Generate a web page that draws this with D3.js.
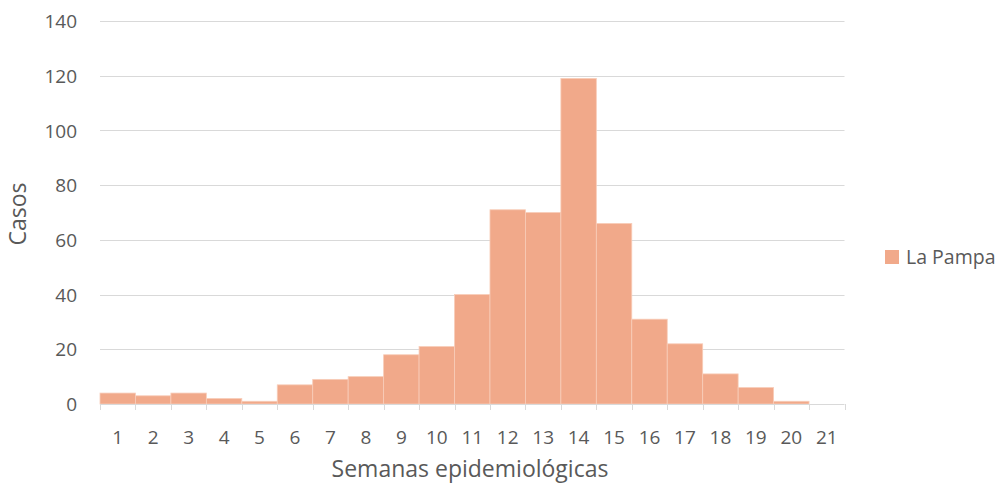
<!DOCTYPE html>
<html><head><meta charset="utf-8">
<script src="https://cdn.jsdelivr.net/npm/d3@7"></script>
<style>body{margin:0;background:#fff;} svg{display:block;} text{font-family:"Open Sans",sans-serif;fill:#595959;}</style>
</head><body><svg id="c" width="1000" height="485"></svg>
<script>
const weeks = ["1","2","3","4","5","6","7","8","9","10","11","12","13","14","15","16","17","18","19","20","21"];
const cases = [4,3,4,2,1,7,9,10,18,21,40,71,70,119,66,31,22,11,6,1,0];
const yTicks = [0,20,40,60,80,100,120,140];
const seriesName = "La Pampa";
const xTitle = "Semanas epidemiológicas";
const yTitle = "Casos";

const svg = d3.select("#c");
const x = d3.scaleBand().domain(weeks).range([100, 844.5]).padding(0);
const y = d3.scaleLinear().domain([0, 140]).range([404, 21]);
const fill = "#F1A98A";

// gridlines
svg.append("g").selectAll("line").data(yTicks.filter(d=>d>0)).join("line")
  .attr("x1", 100).attr("x2", 844.5)
  .attr("y1", d=>Math.round(y(d))+0.5).attr("y2", d=>Math.round(y(d))+0.5)
  .attr("stroke", "#d9d9d9").attr("stroke-width", 1);

// bars
svg.append("g").selectAll("rect").data(weeks).join("rect")
  .attr("x", d=>x(d)).attr("width", x.bandwidth())
  .attr("y", (d,i)=>y(cases[i])).attr("height", (d,i)=>y(0)-y(cases[i]))
  .attr("fill", fill).attr("stroke", "#f8cdb9").attr("stroke-width", 0.8);

// x axis
const xAxis = d3.axisBottom(x).tickSize(0).tickPadding(0);
const gx = svg.append("g").attr("transform", "translate(0,404)").call(xAxis);
gx.select(".domain").attr("stroke", "#d9d9d9").attr("d", "M100,0.5H844.5");
gx.selectAll(".tick text").attr("dy", null).attr("y", 40).attr("font-size", 19).attr("font-family", "Open Sans").attr("fill", "#595959");
// band boundary ticks
const bounds = weeks.map(d=>x(d)).concat([x.range()[1]]);
svg.append("g").selectAll("line").data(bounds).join("line")
  .attr("x1", d=>Math.round(d)+0.5).attr("x2", d=>Math.round(d)+0.5)
  .attr("y1", 404).attr("y2", 410).attr("stroke", "#d9d9d9");

// y axis
const yAxis = d3.axisLeft(y).tickValues(yTicks).tickSize(0).tickPadding(0);
const gy = svg.append("g").attr("transform", "translate(77,0)").call(yAxis);
gy.select(".domain").remove();
gy.selectAll(".tick text").attr("font-size", 19).attr("font-family", "Open Sans").attr("fill", "#595959").attr("dy", "0.35em");

// titles
svg.append("text").attr("x", 470).attr("y", 477).attr("text-anchor", "middle")
  .attr("font-size", 23).text(xTitle);
svg.append("text").attr("transform", "translate(26,214) rotate(-90)").attr("text-anchor", "middle")
  .attr("font-size", 23).text(yTitle);

// legend
svg.append("rect").attr("x", 885).attr("y", 250).attr("width", 14).attr("height", 14).attr("fill", fill);
svg.append("text").attr("x", 906).attr("y", 257).attr("dy", "0.35em").attr("font-size", 19.5).text(seriesName);
</script></body></html>
